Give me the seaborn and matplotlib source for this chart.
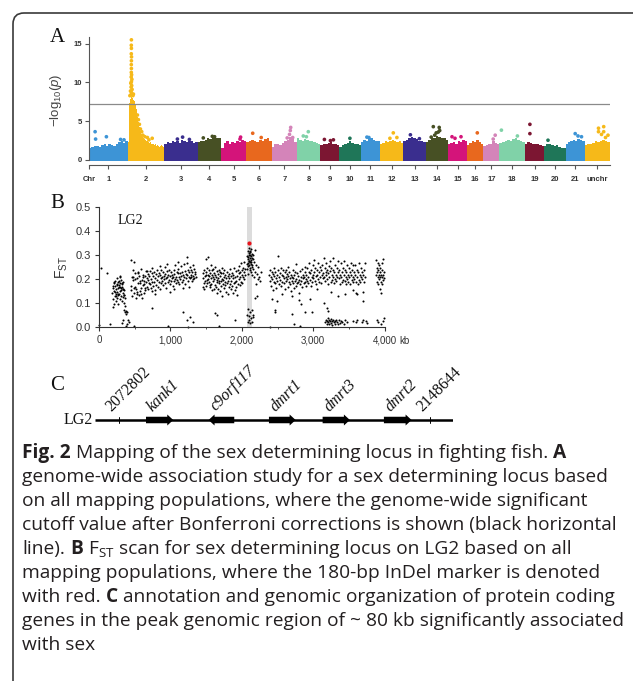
import numpy as np
import pandas as pd
import matplotlib
matplotlib.use("Agg")
import matplotlib.pyplot as plt
import seaborn as sns
from matplotlib.patches import FancyBboxPatch, FancyArrow
from matplotlib.transforms import IdentityTransform

# ====================== DATA ======================
# ---- Panel A: genome-wide association (Manhattan) ----
chrom_labels = ["1", "2", "3", "4", "5", "6", "7", "8", "9", "10", "11",
                "12", "13", "14", "15", "16", "17", "18", "19", "20", "21", "unchr"]
chrom_lengths = [38.9, 36.5, 33.2, 23.5, 25.1, 25.5, 25.2, 23.5, 19.0, 21.5, 19.0,
                 23.5, 22.3, 22.3, 19.0, 16.2, 16.2, 25.6, 19.0, 21.5, 19.0, 25.5]
chrom_palette = ["#3d94d6", "#f6b919", "#3a2e8e", "#475024", "#d4147a",
                 "#e8681e", "#d484b9", "#80d2a8", "#7c1632", "#1f7658"]

# dense band of SNPs: upper envelope of -log10(p) along each chromosome
band_chr1 = [1.6, 1.7, 1.75, 1.8, 1.7, 1.9, 2.0, 1.85, 2.0, 1.9, 1.8, 2.1, 2.3, 2.4, 2.2, 2.5]
band_chr2 = [2.3, 7.3, 7.9, 8.1, 8.0, 7.8, 7.6, 7.2, 6.6, 5.6, 4.9, 4.3, 3.7, 3.3, 3.0, 2.9,
             2.7, 2.6, 2.4, 2.5, 2.3, 2.2, 2.3, 2.1, 2.0, 2.1, 1.9, 2.0, 1.8, 1.9, 1.8, 1.7,
             1.8, 1.9, 1.8, 1.7]
band_chr3 = [2.1, 2.3, 2.2, 2.4, 2.3, 2.5, 2.2, 2.6, 2.4, 2.3, 2.5, 2.4, 2.2, 2.3]
band_chr4 = [2.3, 2.5, 2.4, 2.6, 2.8, 2.7, 2.9, 3.0, 2.9, 2.8]
band_chr5 = [1.5, 2.2, 2.4, 2.1, 2.3, 2.2, 2.4, 2.3, 2.6, 2.4]
band_chr6 = [2.3, 2.4, 2.6, 2.5, 2.3, 2.6, 2.4, 2.7, 2.8, 2.5]
band_chr7 = [1.7, 2.0, 2.1, 1.9, 2.2, 2.4, 2.6, 3.0, 2.7, 2.3]
band_chr8 = [2.8, 2.6, 2.5, 2.7, 2.6, 2.4, 2.5, 2.3, 2.2, 2.0]
band_chr9 = [1.9, 2.1, 2.0, 2.2, 2.3, 2.0, 2.1, 1.9]
band_chr10 = [1.7, 1.9, 2.0, 2.2, 2.4, 2.2, 2.0, 2.1, 1.9]
band_chr11 = [2.3, 2.6, 2.5, 2.7, 2.8, 2.6, 2.5, 2.4]
band_chr12 = [2.0, 2.2, 2.4, 2.3, 2.5, 2.6, 2.4, 2.3, 2.5, 2.2]
band_chr13 = [2.4, 2.6, 2.8, 3.0, 2.9, 2.7, 2.5, 2.4, 2.3]
band_chr14 = [2.3, 2.6, 2.8, 2.9, 3.1, 3.0, 2.8, 2.9, 2.6]
band_chr15 = [2.0, 2.2, 2.3, 2.1, 2.4, 2.3, 2.6, 2.4]
band_chr16 = [1.9, 2.2, 2.4, 2.3, 2.6, 2.3, 2.1]
band_chr17 = [1.8, 1.9, 2.1, 2.0, 2.4, 2.2, 2.0]
band_chr18 = [2.2, 2.3, 2.5, 2.6, 2.4, 2.7, 2.8, 2.6, 2.5, 2.3]
band_chr19 = [2.0, 2.3, 2.2, 2.1, 2.0, 2.1, 1.9, 1.8]
band_chr20 = [1.8, 2.0, 2.1, 1.9, 1.8, 1.9, 1.7, 1.6, 1.5]
band_chr21 = [2.0, 2.3, 2.4, 2.6, 2.5, 2.7, 2.6, 2.5]
band_unchr = [1.9, 2.1, 2.0, 2.2, 2.4, 2.3, 2.5, 2.6, 2.4, 2.3]

# individual SNPs standing above the band: (position within chromosome, -log10 p)
snps_chr1 = [(6.1, 3.65), (6.6, 2.7), (17.4, 3.0), (31.6, 2.65), (35.0, 2.6)]
snps_chr2 = [(3.0, 8.4), (3.6, 8.7), (2.6, 8.9), (4.2, 9.1), (3.2, 9.4), (3.8, 9.6),
             (2.9, 9.9), (3.5, 10.1), (4.0, 10.4), (3.3, 10.7), (3.7, 11.0), (3.4, 11.3),
             (3.5, 11.8), (3.4, 12.3), (3.5, 12.8), (3.6, 13.3), (3.4, 13.7), (3.5, 14.4),
             (3.4, 14.8), (3.5, 15.5), (2.0, 8.3), (5.0, 8.3), (5.5, 8.5), (9.5, 5.8),
             (10.5, 5.2), (11.5, 4.6), (12.5, 4.0), (13.8, 3.65), (15.0, 3.2), (17.0, 3.0),
             (19.5, 2.9), (21.0, 2.6), (24.3, 2.8)]
snps_chr3 = [(18.2, 2.95), (13.0, 2.7), (25.0, 2.65)]
snps_chr4 = [(5.7, 2.85), (14.7, 3.05), (17.0, 3.0)]
snps_chr5 = [(18.9, 2.7), (19.5, 2.95)]
snps_chr6 = [(6.5, 3.45), (15.0, 2.9)]
snps_chr7 = [(19.0, 4.2), (18.6, 3.8), (17.8, 3.3), (15.5, 2.85), (21.0, 2.9)]
snps_chr8 = [(11.4, 3.65), (6.4, 3.1), (9.5, 3.0)]
snps_chr9 = [(4.0, 2.65), (10.0, 2.5), (13.0, 2.6)]
snps_chr10 = [(10.5, 2.8)]
snps_chr11 = [(6.0, 2.95), (8.0, 2.9)]
snps_chr12 = [(13.4, 3.5), (10.0, 2.8), (17.0, 2.9)]
snps_chr13 = [(7.0, 3.25), (16.0, 2.75)]
snps_chr14 = [(7.6, 4.3), (13.5, 4.2), (10.5, 3.5), (12.5, 3.6), (5.5, 2.95), (9.0, 3.2), (14.0, 3.8)]
snps_chr15 = [(4.0, 3.0), (7.0, 2.8), (13.0, 3.0)]
snps_chr16 = [(10.3, 3.5)]
snps_chr17 = [(12.0, 3.2), (10.0, 2.7)]
snps_chr18 = [(2.0, 3.85), (18.0, 3.1)]
snps_chr19 = [(4.9, 4.6), (4.9, 3.4)]
snps_chr20 = [(4.0, 2.55)]
snps_chr21 = [(9.7, 3.4), (12.5, 3.1), (16.0, 3.0)]
snps_unchr = [(14.0, 4.1), (19.2, 4.3), (14.0, 3.65), (19.2, 3.65), (17.0, 3.3), (23.5, 3.2), (21.0, 2.9)]

bonferroni_cutoff = 7.2
gwas_yticks = [0, 5, 10, 15]

# ---- Panel B: FST scan on LG2, (position kb, FST) ----
fst_start = [(3, 0.006), (28, 0.245), (113, 0.226), (150, 0.01)]
fst_seg1 = [(185, 0.143), (191, 0.118), (199, 0.162), (204, 0.097), (211, 0.151), (213, 0.184),
            (221, 0.127), (225, 0.172), (228, 0.193), (234, 0.108), (237, 0.158), (243, 0.139),
            (247, 0.204), (249, 0.121), (256, 0.174), (258, 0.147), (264, 0.186), (267, 0.131),
            (273, 0.163), (275, 0.191), (282, 0.138), (284, 0.176), (291, 0.116), (293, 0.182),
            (299, 0.149), (302, 0.196), (308, 0.127), (310, 0.161), (317, 0.178), (321, 0.106),
            (324, 0.168), (330, 0.142), (333, 0.189), (339, 0.123), (341, 0.157), (348, 0.098),
            (350, 0.153), (357, 0.134), (359, 0.087), (365, 0.119), (201, 0.171), (216, 0.187),
            (227, 0.146), (241, 0.128), (253, 0.179), (266, 0.137), (279, 0.166), (288, 0.207),
            (301, 0.168), (313, 0.152), (322, 0.183), (337, 0.158), (349, 0.132), (190, 0.081),
            (262, 0.093), (297, 0.213)]
fst_seg1_tail = [(345, 0.07), (360, 0.06), (372, 0.065), (385, 0.055), (398, 0.06), (410, 0.03),
                 (420, 0.02), (318, 0.017), (330, 0.03), (372, 0.005), (390, 0.012)]
fst_seg2 = [(445, 0.281), (453, 0.153), (457, 0.208), (467, 0.128), (472, 0.194), (481, 0.238),
            (486, 0.142), (494, 0.273), (499, 0.168), (508, 0.223), (513, 0.122), (521, 0.157),
            (526, 0.203), (535, 0.137), (540, 0.228), (549, 0.183), (554, 0.131), (563, 0.214),
            (568, 0.148), (577, 0.192), (582, 0.243), (591, 0.161), (596, 0.119), (605, 0.197),
            (610, 0.174), (619, 0.218), (624, 0.143), (633, 0.177), (638, 0.212), (647, 0.152),
            (652, 0.188), (661, 0.232), (666, 0.166), (675, 0.203), (680, 0.158), (689, 0.221),
            (694, 0.184), (451, 0.172), (471, 0.207), (489, 0.163), (511, 0.198), (529, 0.147),
            (551, 0.224), (569, 0.181), (589, 0.136), (612, 0.209), (628, 0.193), (651, 0.162),
            (671, 0.234), (688, 0.197),
            (705, 0.213), (711, 0.178), (719, 0.232), (723, 0.163), (732, 0.198), (736, 0.224),
            (745, 0.187), (749, 0.247), (758, 0.171), (762, 0.212), (771, 0.186), (775, 0.228),
            (784, 0.152), (788, 0.203), (797, 0.219), (801, 0.176), (810, 0.238), (814, 0.197),
            (823, 0.168), (827, 0.214), (836, 0.226), (840, 0.188), (849, 0.158), (853, 0.217),
            (862, 0.203), (866, 0.236), (875, 0.181), (879, 0.209), (888, 0.192), (892, 0.227),
            (901, 0.173), (905, 0.214), (914, 0.198), (918, 0.248), (927, 0.183), (931, 0.221),
            (940, 0.202), (944, 0.163), (953, 0.208), (957, 0.233), (966, 0.186), (970, 0.218),
            (979, 0.197), (983, 0.237), (992, 0.178), (996, 0.213), (1005, 0.229), (1009, 0.192),
            (1018, 0.216), (1022, 0.204), (1031, 0.172), (1035, 0.207), (1044, 0.238), (1048, 0.193),
            (1057, 0.221), (1061, 0.198), (1070, 0.258), (1074, 0.182), (1083, 0.209), (1087, 0.231),
            (1096, 0.197), (1100, 0.223), (1109, 0.188), (1113, 0.242), (1122, 0.207), (1126, 0.178),
            (1135, 0.224), (1139, 0.201), (1148, 0.253), (1152, 0.213), (1161, 0.186), (1165, 0.228),
            (1174, 0.216), (1178, 0.196), (1187, 0.262), (1191, 0.208), (1200, 0.177), (1204, 0.234),
            (1213, 0.219), (1217, 0.203), (1226, 0.268), (1232, 0.291), (1239, 0.217), (1243, 0.238),
            (1252, 0.192), (1256, 0.229), (1265, 0.207), (1269, 0.248), (1278, 0.203), (1282, 0.218),
            (1291, 0.236), (1295, 0.209), (1304, 0.227), (1308, 0.193), (1317, 0.214), (1321, 0.198),
            (1330, 0.243), (1334, 0.206), (1343, 0.231), (1347, 0.219), (1356, 0.208), (741, 0.148),
            (791, 0.137), (859, 0.253), (948, 0.262), (1001, 0.147), (1052, 0.158), (1111, 0.272),
            (1181, 0.163), (1261, 0.168), (1319, 0.257)]
fst_seg2_low = [(746, 0.077), (970, 0.005), (1275, 0.042), (1310, 0.02), (1250, 0.0), (490, 0.005),
                (1180, 0.06), (1230, 0.03)]
fst_seg3 = [(1452, 0.204), (1459, 0.168), (1462, 0.223), (1470, 0.182), (1474, 0.238), (1481, 0.193),
            (1485, 0.212), (1492, 0.284), (1496, 0.172), (1503, 0.228), (1507, 0.197), (1514, 0.246),
            (1518, 0.183), (1525, 0.218), (1529, 0.293), (1536, 0.188), (1540, 0.214), (1547, 0.237),
            (1551, 0.166), (1558, 0.226), (1562, 0.203), (1569, 0.257), (1573, 0.178), (1580, 0.217),
            (1584, 0.153), (1591, 0.208), (1595, 0.192), (1602, 0.243), (1606, 0.158), (1613, 0.224),
            (1617, 0.198), (1624, 0.176), (1628, 0.252), (1635, 0.207), (1639, 0.168), (1646, 0.234),
            (1650, 0.187), (1657, 0.143), (1661, 0.219), (1668, 0.203), (1672, 0.157), (1679, 0.238),
            (1683, 0.181), (1690, 0.213), (1694, 0.148), (1701, 0.227), (1705, 0.193), (1712, 0.172),
            (1716, 0.247), (1723, 0.198), (1727, 0.128), (1734, 0.223), (1738, 0.178), (1745, 0.209),
            (1749, 0.162), (1756, 0.236), (1760, 0.188), (1767, 0.217), (1771, 0.173), (1778, 0.203),
            (1782, 0.147), (1789, 0.228), (1793, 0.182), (1800, 0.213), (1804, 0.192), (1811, 0.138),
            (1815, 0.219), (1822, 0.167), (1826, 0.206), (1833, 0.241), (1837, 0.177), (1844, 0.212),
            (1848, 0.158), (1855, 0.193), (1859, 0.226), (1866, 0.171), (1870, 0.204), (1877, 0.142),
            (1881, 0.218), (1888, 0.183), (1892, 0.247), (1899, 0.188), (1903, 0.152), (1910, 0.208),
            (1914, 0.168), (1921, 0.232), (1925, 0.193), (1932, 0.133), (1936, 0.214), (1943, 0.237),
            (1947, 0.178), (1954, 0.223), (1958, 0.256), (1965, 0.198), (1969, 0.173), (1976, 0.227),
            (1980, 0.208), (1987, 0.267), (1991, 0.187), (1998, 0.238), (2002, 0.217), (2009, 0.182),
            (2013, 0.246), (2020, 0.207), (2024, 0.228), (2031, 0.272), (2035, 0.198), (2042, 0.243),
            (2046, 0.218), (1471, 0.158), (1499, 0.218), (1531, 0.201), (1561, 0.176), (1589, 0.236),
            (1621, 0.217), (1649, 0.197), (1681, 0.193), (1709, 0.224), (1741, 0.196)]
fst_seg3_low = [(1625, 0.057), (1650, 0.048), (1680, 0.005), (1905, 0.03)]
fst_peak = [(2072, 0.262), (2075, 0.297), (2078, 0.243), (2081, 0.284), (2084, 0.318), (2087, 0.268),
            (2090, 0.291), (2093, 0.253), (2096, 0.307), (2099, 0.277), (2102, 0.328), (2105, 0.258),
            (2108, 0.302), (2111, 0.273), (2114, 0.288), (2117, 0.238), (2120, 0.312), (2123, 0.281),
            (2126, 0.263), (2129, 0.296), (2132, 0.272), (2135, 0.228), (2138, 0.287), (2141, 0.257),
            (2144, 0.306), (2147, 0.248), (2150, 0.283), (2080, 0.221), (2095, 0.274), (2110, 0.247),
            (2125, 0.327), (2140, 0.218), (2100, 0.302), (2115, 0.318),
            (2075, 0.05), (2082, 0.02), (2090, 0.075), (2098, 0.03), (2105, 0.045), (2112, 0.015),
            (2120, 0.06), (2128, 0.035), (2136, 0.07), (2142, 0.02), (2150, 0.05), (2160, 0.04)]
fst_post_peak = [(2158, 0.30), (2163, 0.24), (2170, 0.27), (2176, 0.21), (2182, 0.32), (2188, 0.23),
                 (2195, 0.18), (2201, 0.26), (2208, 0.13), (2214, 0.22), (2222, 0.20), (2230, 0.25),
                 (2245, 0.21), (2260, 0.19), (2275, 0.23), (2190, 0.12)]
fst_seg4 = [(2385, 0.218), (2391, 0.192), (2399, 0.238), (2404, 0.172), (2413, 0.207), (2417, 0.228),
            (2426, 0.198), (2431, 0.153), (2439, 0.219), (2444, 0.187), (2453, 0.247), (2457, 0.213),
            (2466, 0.182), (2471, 0.227), (2479, 0.203), (2484, 0.163), (2493, 0.218), (2497, 0.192),
            (2506, 0.236), (2512, 0.294), (2519, 0.208), (2524, 0.178), (2533, 0.226), (2537, 0.197),
            (2546, 0.244), (2551, 0.172), (2559, 0.218), (2564, 0.188), (2573, 0.212), (2577, 0.237),
            (2586, 0.183), (2591, 0.203), (2599, 0.228), (2604, 0.158), (2613, 0.207), (2617, 0.193),
            (2626, 0.236), (2631, 0.198), (2639, 0.222), (2644, 0.168), (2653, 0.213), (2657, 0.187),
            (2666, 0.227), (2671, 0.178), (2679, 0.204), (2684, 0.148), (2693, 0.218), (2697, 0.192),
            (2706, 0.208), (2711, 0.238), (2719, 0.183), (2724, 0.202), (2733, 0.162), (2737, 0.217),
            (2746, 0.193), (2751, 0.228), (2759, 0.172), (2764, 0.198), (2773, 0.181), (2777, 0.223),
            (2786, 0.188), (2791, 0.212), (2799, 0.142), (2804, 0.197), (2813, 0.232), (2817, 0.178),
            (2826, 0.208), (2831, 0.193), (2839, 0.243), (2844, 0.167), (2853, 0.203), (2857, 0.218),
            (2866, 0.182), (2871, 0.207), (2879, 0.188), (2884, 0.228), (2893, 0.198), (2897, 0.172),
            (2421, 0.118), (2489, 0.108), (2561, 0.137), (2641, 0.252), (2701, 0.128), (2761, 0.262),
            (2829, 0.097), (2881, 0.248),
            (2905, 0.218), (2911, 0.193), (2919, 0.247), (2924, 0.208), (2933, 0.182), (2937, 0.228),
            (2946, 0.268), (2951, 0.197), (2959, 0.223), (2964, 0.172), (2973, 0.238), (2977, 0.207),
            (2986, 0.188), (2991, 0.257), (2999, 0.218), (3004, 0.203), (3013, 0.278), (3017, 0.227),
            (3026, 0.192), (3031, 0.246), (3039, 0.212), (3044, 0.177), (3053, 0.237), (3057, 0.218),
            (3066, 0.198), (3071, 0.266), (3079, 0.228), (3084, 0.187), (3093, 0.248), (3097, 0.207),
            (3106, 0.238), (3111, 0.182), (3119, 0.217), (3124, 0.258), (3133, 0.203), (3137, 0.226),
            (3146, 0.287), (3151, 0.208), (3159, 0.247), (3164, 0.193), (3173, 0.228), (3177, 0.268),
            (3186, 0.217), (3191, 0.198), (3199, 0.237), (3204, 0.178), (3213, 0.223), (3217, 0.256),
            (3226, 0.207), (3231, 0.277), (3239, 0.232), (3244, 0.188), (3253, 0.247), (3257, 0.218),
            (3266, 0.197), (3271, 0.286), (3279, 0.236), (3284, 0.207), (3293, 0.183), (3297, 0.228),
            (3306, 0.258), (3311, 0.198), (3319, 0.218), (3324, 0.192), (3333, 0.247), (3337, 0.208),
            (3346, 0.276), (3351, 0.227), (3359, 0.203), (3364, 0.238), (3373, 0.177), (3377, 0.217),
            (3386, 0.266), (3391, 0.207), (3399, 0.188), (3404, 0.228), (3413, 0.246), (3417, 0.197),
            (3426, 0.218), (3431, 0.277), (3439, 0.193), (3444, 0.237), (3453, 0.208), (3457, 0.178),
            (3466, 0.227), (3471, 0.257), (3479, 0.198), (3484, 0.217), (3493, 0.187), (3497, 0.246),
            (3506, 0.208), (3511, 0.228), (3519, 0.177), (3524, 0.218), (3533, 0.266), (3537, 0.197),
            (3546, 0.238), (3551, 0.188), (3559, 0.207), (3564, 0.152), (3573, 0.228), (3577, 0.198),
            (3586, 0.257), (3591, 0.217), (3599, 0.187), (3604, 0.143), (3613, 0.237), (3617, 0.208),
            (3626, 0.178), (3631, 0.227), (3639, 0.197), (3644, 0.266), (3653, 0.218), (3657, 0.188),
            (3666, 0.207), (3671, 0.247), (3679, 0.198), (3684, 0.228), (3693, 0.147), (3697, 0.217),
            (3706, 0.187), (3711, 0.238), (3719, 0.207), (3724, 0.268), (2951, 0.118), (3049, 0.157),
            (3151, 0.098), (3249, 0.147), (3351, 0.128), (3449, 0.138), (3551, 0.257), (3609, 0.137),
            (3701, 0.108)]
fst_seg4_low = [(2395, 0.0), (2465, 0.07), (2470, 0.06), (2700, 0.055), (2725, 0.01), (2795, 0.11),
                (2810, 0.005), (2890, 0.06), (2985, 0.06), (3200, 0.08), (3205, 0.065),
                (3172, 0.02), (3180, 0.03), (3188, 0.012), (3195, 0.025), (3203, 0.035), (3210, 0.018),
                (3218, 0.028), (3226, 0.01), (3235, 0.022), (3243, 0.032), (3252, 0.015), (3260, 0.025),
                (3270, 0.008), (3280, 0.03), (3290, 0.018), (3300, 0.022), (3312, 0.012), (3325, 0.028),
                (3338, 0.02), (3350, 0.01), (3365, 0.03), (3380, 0.015), (3395, 0.025), (3410, 0.02),
                (3430, 0.012), (3450, 0.028), (3470, 0.02), (3560, 0.025), (3600, 0.02), (3620, 0.03),
                (3680, 0.02), (3700, 0.03), (3740, 0.025), (3760, 0.015)]
fst_seg5 = [(3882, 0.278), (3886, 0.218), (3890, 0.247), (3894, 0.188), (3898, 0.228), (3902, 0.266),
            (3906, 0.207), (3910, 0.177), (3914, 0.237), (3918, 0.198), (3922, 0.257), (3926, 0.217),
            (3930, 0.158), (3934, 0.227), (3938, 0.208), (3942, 0.246), (3946, 0.187), (3950, 0.218),
            (3954, 0.143), (3958, 0.268), (3962, 0.207), (3966, 0.238), (3970, 0.178), (3974, 0.217),
            (3978, 0.284), (3982, 0.197), (3986, 0.228), (3990, 0.206),
            (3890, 0.03), (3905, 0.02), (3950, 0.01), (3975, 0.025), (3985, 0.035)]
indel_marker = (2100, 0.35)            # 180-bp InDel, shown in red
peak_region_kb = (2072.802, 2148.644)  # shaded region
fst_xticks = [0, 1000, 2000, 3000, 4000]
fst_xticklabels = ["0", "1,000", "2,000", "3,000", "4,000"]
fst_yticks = [0.0, 0.1, 0.2, 0.3, 0.4, 0.5]

# ---- Panel C: gene organisation (bp) ----
region_span = (2066870, 2154185)
marker_names = ["2072802", "2148644"]
marker_pos = [2072802, 2148644]
gene_names = ["kank1", "c9orf117", "dmrt1", "dmrt3", "dmrt2"]
gene_start = [2079317, 2094591, 2109330, 2122433, 2137393]
gene_end = [2085978, 2100862, 2115845, 2129094, 2144152]
gene_strand = [1, -1, 1, 1, 1]

# ---- caption ----
caption_lines = [
    [("Fig. 2", True), ("Mapping of the sex determining locus in fighting fish.", False), ("A", True)],
    [("genome-wide association study for a sex determining locus based", False)],
    [("on all mapping populations, where the genome-wide significant", False)],
    [("cutoff value after Bonferroni corrections is shown (black horizontal", False)],
    [("line).", False), ("B", True), (r"$\mathsf{F}_{\mathsf{ST}}$", False),
     ("scan for sex determining locus on LG2 based on all", False)],
    [("mapping populations, where the 180-bp InDel marker is denoted", False)],
    [("with red.", False), ("C", True), ("annotation and genomic organization of protein coding", False)],
    [("genes in the peak genomic region of ~ 80 kb significantly associated", False)],
    [("with sex", False)],
]

# ====================== STYLE ======================
sns.set_theme(style="ticks", context="paper")
plt.rcParams["font.family"] = ["Liberation Sans", "DejaVu Sans"]
plt.rcParams["mathtext.fontset"] = "custom"
plt.rcParams["mathtext.rm"] = "Liberation Sans"
plt.rcParams["mathtext.it"] = "Liberation Sans:italic"
plt.rcParams["mathtext.bf"] = "Liberation Sans:bold"
plt.rcParams["mathtext.sf"] = "Open Sans"

W, H = 633, 681
fig = plt.figure(figsize=(W / 100, H / 100), dpi=100)
fig.patch.set_facecolor("white")


def add_ax(x0, y0, x1, y1):
    return fig.add_axes([x0 / W, 1 - y1 / H, (x1 - x0) / W, (y1 - y0) / H])


def fx(px):
    return px / W


def fy(py):
    return 1 - py / H


# frame around the figure (rounded, runs off right / bottom)
fig.add_artist(FancyBboxPatch((13, -40), 660, 668 + 40,
                              boxstyle="round,pad=0,rounding_size=11",
                              transform=IdentityTransform(), fill=False,
                              edgecolor="#3a3a3a", linewidth=1.2))

SERIF = "Liberation Serif"

# ====================== PANEL A ======================
A_YMIN, A_YMAX = -0.62, 15.9
PXU = 7.753
axA = add_ax(89, 160 - A_YMAX * PXU, 610, 160 - A_YMIN * PXU)
bands = [band_chr1, band_chr2, band_chr3, band_chr4, band_chr5, band_chr6, band_chr7, band_chr8,
         band_chr9, band_chr10, band_chr11, band_chr12, band_chr13, band_chr14, band_chr15,
         band_chr16, band_chr17, band_chr18, band_chr19, band_chr20, band_chr21, band_unchr]
snps = [snps_chr1, snps_chr2, snps_chr3, snps_chr4, snps_chr5, snps_chr6, snps_chr7, snps_chr8,
        snps_chr9, snps_chr10, snps_chr11, snps_chr12, snps_chr13, snps_chr14, snps_chr15,
        snps_chr16, snps_chr17, snps_chr18, snps_chr19, snps_chr20, snps_chr21, snps_unchr]
starts = np.concatenate([[0.0], np.cumsum(chrom_lengths)[:-1]])
total_len = float(np.sum(chrom_lengths))
color_of = {lab: chrom_palette[i % len(chrom_palette)] for i, lab in enumerate(chrom_labels)}

rows = []
for i, lab in enumerate(chrom_labels):
    L = chrom_lengths[i]
    h = bands[i]
    edges = starts[i] + np.linspace(0, L, len(h) + 1)
    yy = list(h) + [h[-1]]
    axA.fill_between(edges, -0.15, yy, step="post", color=color_of[lab], linewidth=0)
    for p, v in snps[i]:
        rows.append({"pos": starts[i] + p, "logp": v, "chrom": lab})
snp_df = pd.DataFrame(rows)
sns.scatterplot(data=snp_df, x="pos", y="logp", hue="chrom", palette=color_of, s=7,
                linewidth=0, legend=False, ax=axA, clip_on=False)
axA.axhline(bonferroni_cutoff, color="#8a8a8a", lw=0.9)
axA.set_xlim(0, total_len)
axA.set_ylim(A_YMIN, A_YMAX)
axA.set_xlabel("")
axA.set_ylabel("")
for s in ["top", "right"]:
    axA.spines[s].set_visible(False)
axA.spines["left"].set_bounds(0, A_YMAX)
for s in ["left", "bottom"]:
    axA.spines[s].set_color("#555555")
    axA.spines[s].set_linewidth(0.8)
axA.set_yticks(gwas_yticks)
axA.set_yticklabels([str(t) for t in gwas_yticks], fontsize=5.5, fontweight="bold", color="#333333")
xt = [0.0] + [starts[i] + chrom_lengths[i] / 2 for i in range(len(chrom_labels))]
axA.set_xticks(xt)
axA.set_xticklabels(["Chr"] + chrom_labels, fontsize=5.5, fontweight="bold", color="#333333")
axA.tick_params(axis="both", direction="out", length=3, width=0.8, color="#555555",
                bottom=True, left=True)
axA.tick_params(axis="x", pad=5)
axA.tick_params(axis="y", pad=2)
fig.text(fx(56), fy(100), r"$-\mathrm{log}_{10}(\mathit{p})$", rotation=90, ha="center",
         va="center", fontsize=9.5, color="#444444")

# ====================== PANEL B ======================
axB = add_ax(99, 207.3, 384.6, 326.7)
fst_all = (fst_start + fst_seg1 + fst_seg1_tail + fst_seg2 + fst_seg2_low + fst_seg3 + fst_seg3_low
           + fst_peak + fst_post_peak + fst_seg4 + fst_seg4_low + fst_seg5)
fst_df = pd.DataFrame(fst_all, columns=["kb", "fst"])
axB.axvspan(peak_region_kb[0], peak_region_kb[1], ymin=0, ymax=1, color="#dcdcdc", lw=0, zorder=0)
sns.scatterplot(data=fst_df, x="kb", y="fst", color="black", s=2.2, linewidth=0, ax=axB,
                clip_on=False, zorder=2)
axB.scatter([indel_marker[0]], [indel_marker[1]], color="#e8141c", s=9, linewidths=0, zorder=3)
axB.set_xlim(0, 4000)
axB.set_ylim(0, 0.5)
axB.set_xlabel("")
axB.set_ylabel("")
for s in ["top", "right"]:
    axB.spines[s].set_visible(False)
for s in ["left", "bottom"]:
    axB.spines[s].set_color("#333333")
    axB.spines[s].set_linewidth(0.8)
axB.set_xticks(fst_xticks)
axB.set_xticklabels(fst_xticklabels, fontsize=7, color="#333333")
axB.set_xticks([500, 1500, 2500, 3500], minor=True)
axB.set_yticks(fst_yticks)
axB.set_yticklabels([f"{t:.1f}" for t in fst_yticks], fontsize=8, color="#333333")
axB.tick_params(axis="both", which="major", direction="out", length=3, width=0.8,
                color="#333333", bottom=True, left=True, pad=3)
axB.tick_params(axis="x", which="minor", direction="out", length=1.5, width=0.6,
                color="#333333", bottom=True)
fig.text(fx(405), fy(341.5), "kb", ha="center", va="center", fontsize=7, color="#333333")
fig.text(fx(62), fy(268), r"$\mathrm{F}_{\mathrm{ST}}$", rotation=90, ha="center", va="center",
         fontsize=10, color="#333333")
axB.text(0.065, 0.89, "LG2", transform=axB.transAxes, family=SERIF, fontsize=10,
         ha="left", va="center", color="#111111")

# ====================== PANEL C ======================
axC = add_ax(95, 370, 452.7, 440)
axC.set_xlim(*region_span)
axC.set_ylim(-20, 50)
axC.axis("off")
axC.plot(list(region_span), [0, 0], color="black", lw=1.8, solid_capstyle="butt")
bp_per_px = (region_span[1] - region_span[0]) / (452.7 - 95)
for m, name in zip(marker_pos, marker_names):
    axC.plot([m, m], [-3, 3], color="black", lw=0.7)
    axC.annotate(name, xy=(m, 0), xytext=(-5.5, 6), textcoords="offset points", rotation=45,
                 rotation_mode="anchor", ha="left", va="baseline", family=SERIF, fontsize=11.5,
                 color="#111111")
for name, s0, s1, strand in zip(gene_names, gene_start, gene_end, gene_strand):
    x0, dx = (s0, s1 - s0) if strand > 0 else (s1, s0 - s1)
    axC.add_patch(FancyArrow(x0, 0, dx, 0, width=6.5, head_width=11, head_length=6 * bp_per_px,
                             length_includes_head=True, color="black", lw=0))
    axC.annotate(name, xy=(s0, 0), xytext=(5, 6), textcoords="offset points", rotation=45,
                 rotation_mode="anchor", ha="left", va="baseline", family=SERIF,
                 style="italic", fontsize=11.5, color="#111111")
fig.text(fx(93), fy(420), "LG2", ha="right", va="center", family=SERIF, fontsize=11.5,
         color="#111111")

# panel letters
for lab, (px, py) in {"A": (57, 37), "B": (57, 203), "C": (57, 386)}.items():
    fig.text(fx(px), fy(py), lab, ha="center", va="center", family=SERIF, fontsize=15,
             color="#111111")

# ====================== CAPTION ======================
CAP_FONT = "Open Sans"
renderer = fig.canvas.get_renderer()


def text_width(s, size, bold):
    t = fig.text(0, 0, s, fontsize=size, family=CAP_FONT, fontweight="bold" if bold else "normal")
    w = t.get_window_extent(renderer).width
    t.remove()
    return w


ref_size = 13.0
ref_space = text_width("a a", ref_size, False) - text_width("aa", ref_size, False)
line_widths = []
for segs in caption_lines:
    lw_ = sum(text_width(s, ref_size, b) for s, b in segs) + ref_space * (len(segs) - 1)
    line_widths.append(lw_)
cap_size = ref_size * 598.0 / max(line_widths)
space_w = text_width("a a", cap_size, False) - text_width("aa", cap_size, False)
for k, segs in enumerate(caption_lines):
    x = 22.0
    y = 458 + 24 * k
    for j, (s, bold) in enumerate(segs):
        fig.text(fx(x), fy(y), s, fontsize=cap_size, family=CAP_FONT,
                 fontweight="bold" if bold else "normal", color="#231f20",
                 ha="left", va="baseline")
        x += text_width(s, cap_size, bold) + space_w

fig.savefig("out.png", dpi=100)
